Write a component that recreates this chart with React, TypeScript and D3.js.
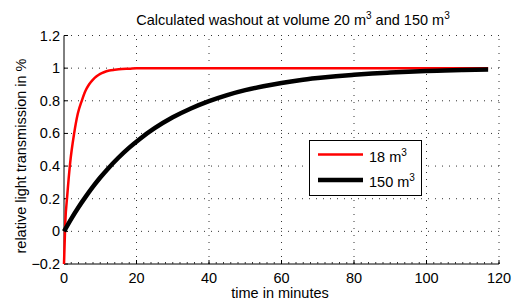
import React, { useEffect, useRef } from 'react';
import * as d3 from 'd3';

// time in minutes / relative transmission
const smallTime = [0, 0.35, 0.9, 1.7, 2.8, 3.8, 4.9, 5.9, 6.9, 8, 9, 10, 11, 12.5, 14, 16, 18, 20, 117];
const smallValue = [-0.2, 0.05, 0.22, 0.42, 0.6, 0.72, 0.8, 0.86, 0.9, 0.93, 0.95, 0.965, 0.975, 0.985, 0.99, 0.995, 0.997, 1, 1];

const largeTime = [0, 2, 4, 6, 8, 10, 12, 15, 18, 21, 25, 30, 35, 40, 45, 50, 55, 60, 65, 70, 75, 80, 85, 90, 95, 100, 105, 110, 117];
const largeValue = [0, 0.077, 0.148, 0.213, 0.274, 0.33, 0.381, 0.451, 0.513, 0.568, 0.632, 0.699, 0.753, 0.798, 0.835, 0.865, 0.889, 0.909, 0.926, 0.939, 0.95, 0.959, 0.967, 0.973, 0.978, 0.982, 0.985, 0.988, 0.991];

const xTicks = [0, 20, 40, 60, 80, 100, 120];
const yTicks = [-0.2, 0, 0.2, 0.4, 0.6, 0.8, 1, 1.2];

const FONT = '"Liberation Sans", Arial, sans-serif';

export default function App() {
  const ref = useRef<SVGSVGElement>(null);

  useEffect(() => {
    const svg = d3.select(ref.current);
    svg.selectAll('*').remove();

    const x = d3.scaleLinear().domain([0, 120]).range([64, 499]);
    const y = d3.scaleLinear().domain([-0.2, 1.2]).range([264, 35.5]);

    const g = svg.append('g').attr('font-family', FONT);

    // dotted grid
    g.selectAll('.vgrid')
      .data(xTicks.slice(1))
      .enter().append('line')
        .attr('x1', (d) => x(d)).attr('x2', (d) => x(d))
        .attr('y1', y(-0.2)).attr('y2', y(1.2))
        .attr('stroke', '#333').attr('stroke-width', 1)
        .attr('stroke-dasharray', '1,6');
    g.selectAll('.hgrid')
      .data(yTicks.slice(1))
      .enter().append('line')
        .attr('x1', x(0)).attr('x2', x(120))
        .attr('y1', (d) => y(d)).attr('y2', (d) => y(d))
        .attr('stroke', '#333').attr('stroke-width', 1)
        .attr('stroke-dasharray', '1,6');

    // axes lines
    g.append('line')
      .attr('x1', x(0)).attr('x2', x(0)).attr('y1', y(-0.2)).attr('y2', y(1.2))
      .attr('stroke', '#000');
    g.append('line')
      .attr('x1', x(0)).attr('x2', x(120)).attr('y1', y(-0.2)).attr('y2', y(-0.2))
      .attr('stroke', '#000');

    // minor ticks on x
    g.selectAll('.minor')
      .data(d3.range(0, 121, 2))
      .enter().append('line')
        .attr('x1', (d) => x(d)).attr('x2', (d) => x(d))
        .attr('y1', y(-0.2)).attr('y2', y(-0.2) - 2)
        .attr('stroke', '#333');
    g.selectAll('.xmajor')
      .data(xTicks)
      .enter().append('line')
        .attr('x1', (d) => x(d)).attr('x2', (d) => x(d))
        .attr('y1', y(-0.2)).attr('y2', y(-0.2) - 4)
        .attr('stroke', '#000');
    g.selectAll('.ymajor')
      .data(yTicks)
      .enter().append('line')
        .attr('x1', x(0)).attr('x2', x(0) + 4)
        .attr('y1', (d) => y(d)).attr('y2', (d) => y(d))
        .attr('stroke', '#000');

    g.selectAll('.xlabel')
      .data(xTicks)
      .enter().append('text')
        .attr('x', (d) => x(d)).attr('y', 283)
        .attr('text-anchor', 'middle').attr('font-size', 14.5)
        .text((d) => String(d));
    g.selectAll('.ylabel')
      .data(yTicks)
      .enter().append('text')
        .attr('x', 60).attr('y', (d) => y(d) + 5)
        .attr('text-anchor', 'end').attr('font-size', 14.5)
        .text((d) => (d < 0 ? '\u2212' + String(-d) : String(d)));

    // curves
    const line = d3.line<[number, number]>()
      .x((d) => x(d[0]))
      .y((d) => y(d[1]))
      .curve(d3.curveMonotoneX);

    g.append('path')
      .datum(smallTime.map((t, i) => [t, smallValue[i]] as [number, number]))
      .attr('d', line)
      .attr('fill', 'none').attr('stroke', '#ff0000').attr('stroke-width', 2.5);
    g.append('path')
      .datum(largeTime.map((t, i) => [t, largeValue[i]] as [number, number]))
      .attr('d', line)
      .attr('fill', 'none').attr('stroke', '#000').attr('stroke-width', 4.5);

    // titles
    const title = g.append('text')
      .attr('x', 293).attr('y', 25).attr('text-anchor', 'middle').attr('font-size', 14.5);
    title.append('tspan').text('Calculated washout at volume 20 m');
    title.append('tspan').attr('dy', -6).attr('font-size', 10).text('3');
    title.append('tspan').attr('dy', 6).text(' and 150 m');
    title.append('tspan').attr('dy', -6).attr('font-size', 10).text('3');

    g.append('text')
      .attr('x', 280).attr('y', 298).attr('text-anchor', 'middle').attr('font-size', 14.5)
      .text('time in minutes');
    g.append('text')
      .attr('transform', 'translate(26,156) rotate(-90)')
      .attr('text-anchor', 'middle').attr('font-size', 14.5)
      .text('relative light transmission in %');

    // legend
    const legend = g.append('g');
    legend.append('rect')
      .attr('x', 309.5).attr('y', 140.5).attr('width', 112).attr('height', 55)
      .attr('fill', '#fff').attr('stroke', '#000');
    const items = [
      { label: '18 m', color: '#ff0000', width: 2.5, yy: 154.5 },
      { label: '150 m', color: '#000', width: 4.5, yy: 180 },
    ];
    items.forEach((it) => {
      legend.append('line')
        .attr('x1', 318).attr('x2', 363).attr('y1', it.yy).attr('y2', it.yy)
        .attr('stroke', it.color).attr('stroke-width', it.width);
      const t = legend.append('text')
        .attr('x', 369).attr('y', it.yy + 7).attr('font-size', 14.5);
      t.append('tspan').text(it.label);
      t.append('tspan').attr('dy', -6).attr('font-size', 10).text('3');
    });
  }, []);

  return (
    <svg ref={ref} width={512} height={301}
      style={{ position: 'absolute', left: 0, top: 0, background: '#fff' }} />
  );
}
